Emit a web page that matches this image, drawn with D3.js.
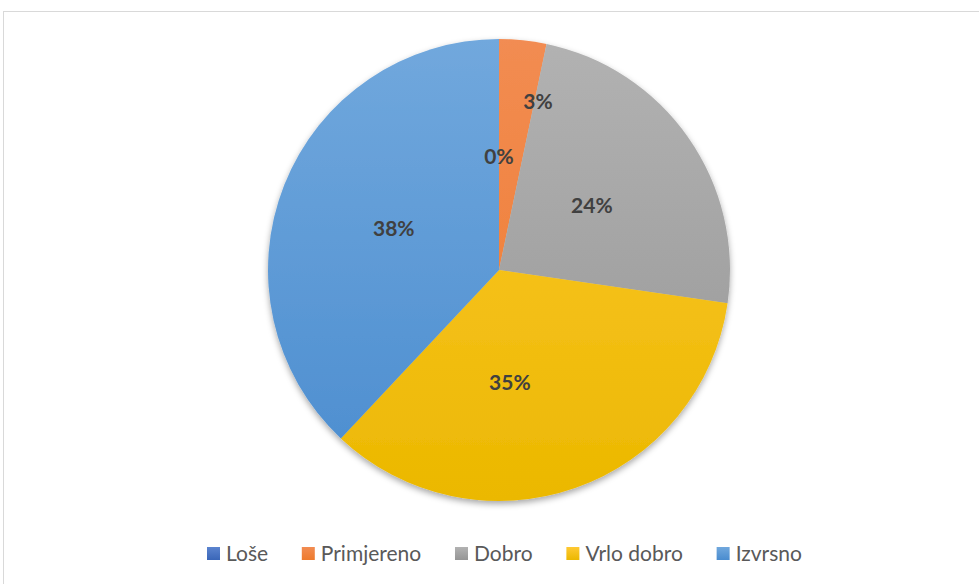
<!DOCTYPE html>
<html lang="hr">
<head>
<meta charset="UTF-8">
<title>Ocjene</title>
<style>
    body{ margin:0; background:#fff; }
    .lbl{ font-family: Lato, "Open Sans", sans-serif; font-weight:bold; font-size:21px; fill:#404040; }
    .leg text{ font-family: Lato, "Open Sans", sans-serif; font-size:21px; fill:#595959; }
</style>
<script src="https://cdn.jsdelivr.net/npm/d3@7"></script>
</head>
<body>
<div id="container"></div>
<script>
// categories and percent shares
const categories = ["Loše", "Primjereno", "Dobro", "Vrlo dobro", "Izvrsno"];
const values = [0, 3.3, 24.0, 34.7, 38.0];
const colorsTop = ["#5b84cf", "#f28c52", "#b2b2b2", "#ffc933", "#71a8dd"];
const colorsBottom = ["#3a66b8", "#ee7a2c", "#959595", "#ebb800", "#4a8ccf"];

const width = 979, height = 584;
const cx = 499, cy = 270, R = 231;

const svg = d3.select("#container").append("svg")
    .attr("width", width).attr("height", height);

const defs = svg.append("defs");
const f = defs.append("filter").attr("id", "shadow")
    .attr("x", "-20%").attr("y", "-20%").attr("width", "140%").attr("height", "140%");
f.append("feDropShadow").attr("dx", 0).attr("dy", 3).attr("stdDeviation", 3)
    .attr("flood-color", "#000").attr("flood-opacity", 0.35);

categories.forEach((c, i) => {
    const g = defs.append("linearGradient").attr("id", "grad" + i)
        .attr("gradientUnits", "userSpaceOnUse")
        .attr("x1", 0).attr("y1", -R).attr("x2", 0).attr("y2", R);
    g.append("stop").attr("offset", "0%").attr("stop-color", colorsTop[i]);
    g.append("stop").attr("offset", "100%").attr("stop-color", colorsBottom[i]);

    const lg = defs.append("linearGradient").attr("id", "lg" + i)
        .attr("x1", 0).attr("y1", 0).attr("x2", 0).attr("y2", 1);
    lg.append("stop").attr("offset", "0%").attr("stop-color", colorsTop[i]);
    lg.append("stop").attr("offset", "100%").attr("stop-color", colorsBottom[i]);
});

// chart border
svg.append("rect").attr("x", 3.5).attr("y", 11.5)
    .attr("width", width + 10).attr("height", height + 10)
    .attr("fill", "none").attr("stroke", "#d9d9d9");

const total = d3.sum(values);
const pie = d3.pie().sort(null).value(d => d)(values);
const arc = d3.arc().innerRadius(0).outerRadius(R);

const g = svg.append("g").attr("transform", `translate(${cx},${cy})`);
g.append("g").attr("filter", "url(#shadow)")
    .selectAll("path").data(pie).enter().append("path")
    .attr("d", arc)
    .attr("fill", (d, i) => `url(#grad${i})`);

// best-fit style label placement: small slices pushed outward
function labelPos(d, i) {
    let a = (d.startAngle + d.endAngle) / 2;
    let r = R * 0.49;
    const span = d.endAngle - d.startAngle;
    if (span > 0 && span < 0.3) { a = d.endAngle + 0.02; r = R * 0.75; }
    if (i === 3) a += 0.24;
    return [Math.sin(a) * r, -Math.cos(a) * r];
}

g.selectAll("text").data(pie).enter().append("text")
    .attr("class", "lbl")
    .attr("text-anchor", "middle")
    .attr("dy", "0.35em")
    .attr("transform", (d, i) => `translate(${labelPos(d, i)})`)
    .text(d => Math.round(d.value / total * 100) + "%");

// legend
const leg = svg.append("g").attr("class", "leg");
const items = leg.selectAll("g").data(categories).enter().append("g");
items.append("rect").attr("width", 13).attr("height", 13)
    .attr("y", -10).attr("fill", (d, i) => `url(#lg${i})`);
items.append("text").attr("x", 19).attr("y", -3.5).attr("dy", "0.35em").text(d => d);

const legStart = 207, legEnd = 802;
const ws = [];
items.each(function () { ws.push(this.getBBox().width); });
const gap = (legEnd - legStart - d3.sum(ws)) / (ws.length - 1);
let xs = [], x = legStart;
ws.forEach(w => { xs.push(x); x += w + gap; });
items.attr("transform", (d, i) => `translate(${xs[i]},557)`);
</script>
</body>
</html>
